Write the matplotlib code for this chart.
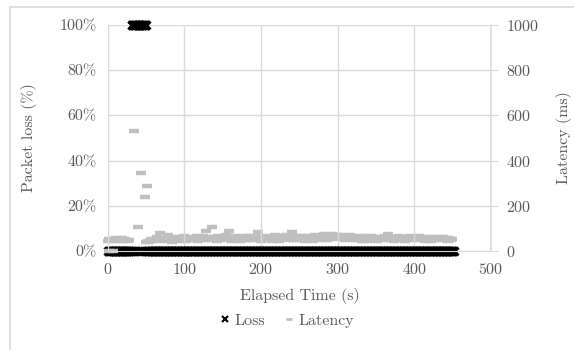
import matplotlib
matplotlib.use("Agg")
import matplotlib.pyplot as plt
from matplotlib.patches import Rectangle
from matplotlib.lines import Line2D

plt.rcParams['font.family'] = ['cmr10', 'DejaVu Serif']
plt.rcParams['axes.formatter.use_mathtext'] = True
plt.rcParams['font.size'] = 11.5

TXT = '#595959'
GRID = '#d9d9d9'
GREY = '#bfbfbf'

# packet loss samples (s)
loss_zero_t = list(range(0, 31)) + [33, 36, 39, 42, 45, 48] + list(range(51, 453))
loss_full_t = list(range(31, 51))

# latency samples
lat_t1 = list(range(0, 30, 2))
lat_ms1 = [45, 52, 48, 55, 50, 58, 46, 53, 49, 56, 44, 51, 47, 42, 50]
lat_zero_t = [2, 6]
spike_t = [34, 39, 43, 48, 51]
spike_ms = [530, 106, 345, 239, 288]
lat_t2 = list(range(50, 452, 2))
lat_ms2 = [40, 45, 38, 52, 48, 55, 42, 60, 50, 80, 47, 53, 44, 58, 70, 49, 62, 41, 55, 51,
           46, 57, 63, 48, 52, 66, 44, 59, 50, 55, 61, 47, 53, 68, 45, 58, 52, 64, 49, 88,
           56, 62, 48, 106, 54, 60, 45, 67, 52, 58, 63, 49, 71, 55, 90, 61, 46, 57, 65, 51,
           59, 44, 62, 53, 68, 48, 56, 64, 50, 60, 47, 66, 54, 85, 58, 43, 61, 52, 67, 49,
           57, 63, 46, 55, 69, 51, 60, 45, 65, 53, 58, 72, 48, 62, 56, 82, 50, 64, 47, 59,
           54, 66, 49, 61, 44, 57, 68, 52, 63, 46, 70, 55, 60, 48, 65, 53, 74, 58, 50, 67,
           62, 76, 56, 69, 51, 64, 58, 72, 54, 66, 49, 61, 57, 70, 52, 63, 47, 59, 65, 53,
           60, 45, 56, 64, 42, 58, 50, 67, 47, 61, 55, 44, 63, 52, 59, 48, 66, 54, 76, 50,
           57, 63, 46, 60, 53, 68, 49, 56, 62, 45, 59, 51, 65, 48, 58, 54, 61, 47, 64, 52,
           56, 60, 46, 63, 51, 58, 44, 62, 53, 57, 49, 61, 55, 47, 60, 52, 58, 45, 56, 50,
           54]

fig = plt.figure(figsize=(5.74, 3.5), dpi=100)
fig.subplots_adjust(left=0.188, right=0.855, top=0.929, bottom=0.283)
ax = fig.add_subplot(111)
ax2 = ax.twinx()

# latency on the right axis (drawn under loss)
ax.set_zorder(2)
ax.patch.set_visible(False)
lat_kw = dict(marker='_', color=GREY, markersize=6.5, markeredgewidth=3.2, linestyle='none',
              clip_on=False)
ax2.plot(lat_t1, lat_ms1, **lat_kw)
ax2.plot(lat_t2, lat_ms2, **lat_kw)
ax2.plot(spike_t, spike_ms, **lat_kw)

loss_kw = dict(marker='x', color='black', markersize=6, markeredgewidth=2.2, linestyle='none',
               clip_on=False)
ax.plot(loss_zero_t, [0] * len(loss_zero_t), **loss_kw)
ax.plot(loss_full_t, [100] * len(loss_full_t), **loss_kw)
ax.plot(lat_zero_t, [0] * len(lat_zero_t), **lat_kw)

ax.set_xlim(0, 500)
ax.set_ylim(0, 100)
ax2.set_ylim(0, 1000)
ax.set_xticks([0, 100, 200, 300, 400, 500])
ax.set_yticks([0, 20, 40, 60, 80, 100])
ax.set_yticklabels(['0%', '20%', '40%', '60%', '80%', '100%'])
ax2.set_yticks([0, 200, 400, 600, 800, 1000])
ax.grid(True, color=GRID, linewidth=1)
ax.set_axisbelow(True)

for a in (ax, ax2):
    for s in a.spines.values():
        s.set_visible(False)
ax2.spines['right'].set_visible(True)
ax2.spines['right'].set_color(GRID)
ax2.spines['right'].set_linewidth(1.2)
ax.spines['left'].set_visible(True)
ax.spines['left'].set_color(GRID)
ax.spines['bottom'].set_visible(True)
ax.spines['bottom'].set_color(GRID)

ax.tick_params(axis='both', length=0, colors=TXT, pad=8)
ax2.tick_params(axis='y', length=5, color=GRID, colors=TXT, pad=6)
ax2.tick_params(axis='y', color=GRID)

ax.set_xlabel('Elapsed Time (s)', color=TXT, labelpad=8)
ax.set_ylabel('Packet loss (%)', color=TXT, labelpad=16)
ax2.set_ylabel('Latency (ms)', color=TXT, labelpad=12)

handles = [Line2D([], [], marker='x', color='black', markersize=4.5, markeredgewidth=1.5,
                  linestyle='none'),
           Line2D([], [], marker='_', color=GREY, markersize=5, markeredgewidth=2,
                  linestyle='none')]
fig.legend(handles, ['Loss', 'Latency'], loc='center', bbox_to_anchor=(0.5, 0.083),
           ncol=2, frameon=False, handlelength=0.6, handletextpad=0.3,
           columnspacing=1.2, labelcolor=TXT)

fig.patches.append(Rectangle((10 / 574, -0.1), 2, 1 - 7 / 350 + 0.1,
                             transform=fig.transFigure, fill=False,
                             edgecolor=GRID, linewidth=1.2))

fig.savefig('out.png', dpi=100)
